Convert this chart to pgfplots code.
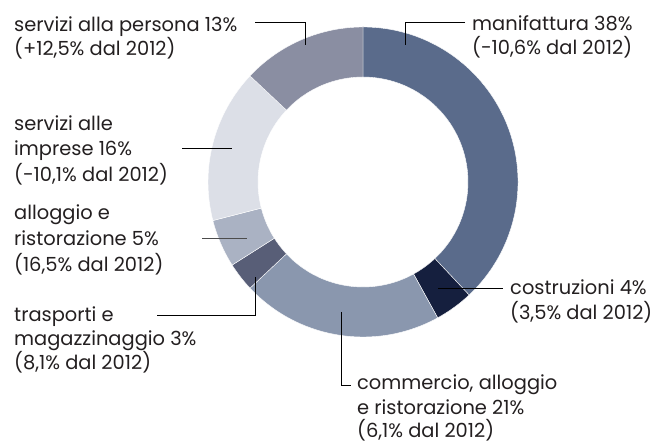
\documentclass[border=0pt]{standalone}
\usepackage{pgfplots}
\pgfplotsset{compat=1.18}
\usepackage{pgfplotstable}
\usepackage{fontspec}
\setmainfont{Poppins}
\definecolor{cA}{HTML}{5A6B8B}
\definecolor{cB}{HTML}{151F3E}
\definecolor{cC}{HTML}{8A97AE}
\definecolor{cD}{HTML}{585E77}
\definecolor{cE}{HTML}{AAB2C3}
\definecolor{cF}{HTML}{DCDFE7}
\definecolor{cG}{HTML}{8A8EA2}
\definecolor{txt}{HTML}{231F20}
\pgfplotstableread{
share col
38 cA
4 cB
21 cC
3 cD
5 cE
16 cF
13 cG
}\donut
\begin{document}
\begin{tikzpicture}
\begin{axis}[x=1bp,y=1bp,xmin=0,xmax=663,ymin=0,ymax=444,hide axis,clip=false,
  scale only axis]
\coordinate (ll) at (axis cs:0,0);
\coordinate (ur) at (axis cs:663,444);
\def\cum{0}
\pgfplotsforeachungrouped \i in {0,...,6}{%
  \pgfplotstablegetelem{\i}{share}\of\donut \let\val\pgfplotsretval
  \pgfplotstablegetelem{\i}{col}\of\donut \let\colr\pgfplotsretval
  \pgfmathsetmacro\aone{90-3.6*\cum}%
  \pgfmathsetmacro\atwo{90-3.6*(\cum+\val)}%
  \pgfmathsetmacro\newcum{\cum+\val}%
  \global\let\cum\newcum
  \edef\temp{\noexpand\fill[\colr,draw=white,line width=0.4bp]
    ([shift={(\aone:155bp)}]axis cs:363,262) arc[start angle=\aone,end angle=\atwo,radius=155bp]
    -- ([shift={(\atwo:105bp)}]axis cs:363,262) arc[start angle=\atwo,end angle=\aone,radius=105bp] -- cycle;}%
  \temp
}
% leader lines
\draw[black,line width=0.8bp] (axis cs:255,422) -- (axis cs:305,422) -- (axis cs:305,399);
\draw[black,line width=0.8bp] (axis cs:465,422) -- (axis cs:405,422) -- (axis cs:405,399);
\draw[black,line width=0.8bp] (axis cs:182,296) -- (axis cs:232,296);
\draw[black!70,line width=0.8bp] (axis cs:202,206) -- (axis cs:247,206);
\draw[black,line width=0.8bp] (axis cs:157,129) -- (axis cs:255,129) -- (axis cs:255,167);
\draw[black,line width=0.8bp] (axis cs:438,156) -- (axis cs:503,156);
\draw[black,line width=0.8bp] (axis cs:341,132) -- (axis cs:341,59) -- (axis cs:351,59);
% labels
\tikzset{lbl/.style={anchor=base west,inner sep=0pt,text=txt,font=\fontsize{19.5}{22}\selectfont}}
\node[lbl] at (axis cs:14,412) {servizi alla persona 13\%};
\node[lbl] at (axis cs:14,388) {(+12,5\% dal 2012)};
\node[lbl] at (axis cs:472,413) {manifattura 38\%};
\node[lbl] at (axis cs:472,389) {(-10,6\% dal 2012)};
\node[lbl] at (axis cs:14,313) {servizi alle};
\node[lbl] at (axis cs:14,288) {imprese 16\%};
\node[lbl] at (axis cs:14,262) {(-10,1\% dal 2012)};
\node[lbl] at (axis cs:14,224) {alloggio e};
\node[lbl] at (axis cs:14,198) {ristorazione 5\%};
\node[lbl] at (axis cs:14,172) {(16,5\% dal 2012)};
\node[lbl] at (axis cs:14,122) {trasporti e};
\node[lbl] at (axis cs:14,98) {magazzinaggio 3\%};
\node[lbl] at (axis cs:14,74) {(8,1\% dal 2012)};
\node[lbl] at (axis cs:510,149) {costruzioni 4\%};
\node[lbl] at (axis cs:510,124) {(3,5\% dal 2012)};
\node[lbl] at (axis cs:357,54) {commercio, alloggio};
\node[lbl] at (axis cs:357,29) {e ristorazione 21\%};
\node[lbl] at (axis cs:357,6) {(6,1\% dal 2012)};
\end{axis}
\pgfresetboundingbox
\path[use as bounding box] (ll) rectangle (ur);
\end{tikzpicture}
\end{document}
